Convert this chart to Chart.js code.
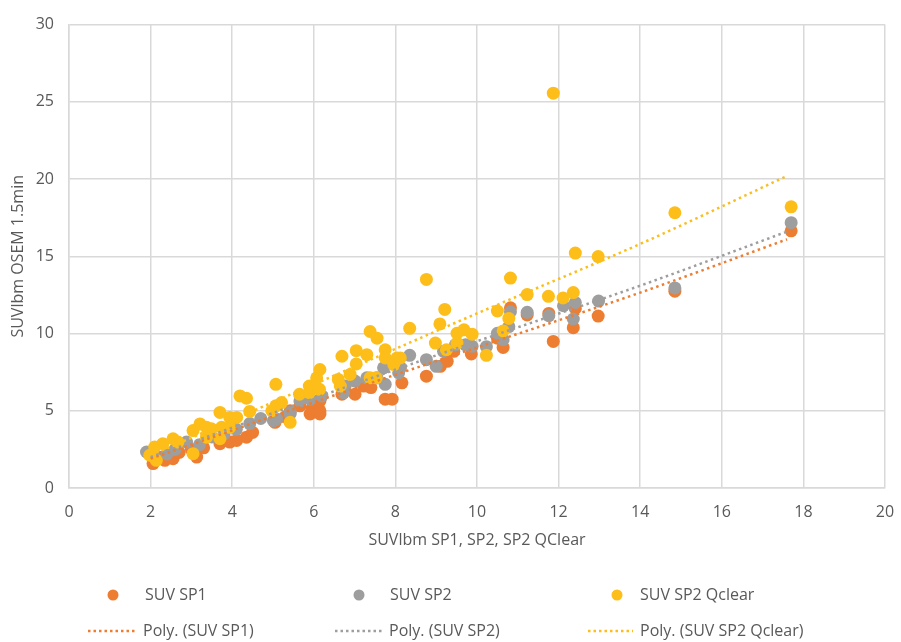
<!DOCTYPE html>
<html>
<head>
<meta charset="utf-8">
<script src="https://cdn.jsdelivr.net/npm/chart.js@4/dist/chart.umd.min.js"></script>
<style>
  html, body { margin: 0; padding: 0; background: #fff; }
  #wrap { width: 901px; height: 642px; }
</style>
</head>
<body>
<div id="wrap"><canvas id="grafico" width="901" height="642"></canvas></div>
<script>
// Valores (SUVlbm)
const sp1X = [2.06, 2.35, 2.55, 2.2, 2.7, 3.13, 3.0, 3.3, 3.7, 3.94, 4.11, 4.35, 4.5, 5.05, 5.3, 5.42, 5.66, 5.91, 6.15, 5.95, 6.15, 5.99, 6.15, 6.69, 7.01, 7.22, 7.4, 7.75, 7.92, 8.16, 8.12, 8.76, 9.1, 9.27, 9.43, 9.86, 10.5, 10.64, 10.82, 11.23, 11.76, 11.87, 12.36, 12.41, 12.97, 14.85, 17.7];
const sp1Y = [1.58, 1.79, 1.9, 2.0, 2.3, 2.0, 2.5, 2.6, 2.87, 2.97, 3.08, 3.29, 3.6, 4.25, 4.6, 5.0, 5.32, 4.79, 4.79, 5.11, 5.0, 5.64, 5.64, 6.07, 6.07, 6.6, 6.5, 5.75, 5.75, 6.81, 7.78, 7.24, 7.88, 8.2, 8.85, 8.68, 9.7, 9.1, 11.67, 11.2, 11.3, 9.49, 10.38, 11.62, 11.13, 12.74, 16.65];

const sp2X = [1.9, 2.1, 2.4, 2.88, 2.6, 3.2, 3.5, 3.8, 4.1, 4.43, 4.7, 5.01, 5.09, 5.42, 5.42, 5.66, 5.91, 6.2, 6.73, 6.77, 7.01, 7.3, 7.55, 7.71, 7.75, 8.04, 8.08, 8.12, 8.35, 8.76, 9.0, 9.18, 9.47, 9.72, 9.88, 10.23, 10.5, 10.64, 10.78, 10.82, 11.23, 11.76, 12.12, 12.36, 12.41, 12.98, 14.85, 17.7];
const sp2Y = [2.33, 2.0, 2.2, 2.97, 2.5, 2.8, 3.3, 3.5, 3.8, 4.17, 4.5, 4.36, 4.47, 4.89, 4.79, 5.64, 5.75, 5.96, 6.17, 6.6, 6.92, 7.13, 7.13, 7.78, 6.71, 7.99, 7.46, 7.78, 8.59, 8.31, 7.88, 8.85, 9.27, 9.27, 9.17, 9.15, 10.02, 9.6, 10.45, 11.41, 11.37, 11.15, 11.8, 10.94, 12.01, 12.1, 12.95, 17.18];

const qclearX = [1.98, 2.14, 2.1, 2.3, 2.55, 2.67, 3.04, 3.04, 3.21, 3.37, 3.37, 3.49, 3.7, 3.7, 3.74, 3.94, 3.94, 4.11, 4.19, 4.35, 4.43, 4.97, 5.07, 5.07, 5.21, 5.42, 5.65, 5.89, 5.89, 6.03, 6.14, 6.07, 6.15, 6.6, 6.65, 6.69, 6.89, 7.04, 7.04, 7.3, 7.38, 7.38, 7.55, 7.53, 7.75, 7.75, 7.96, 8.04, 8.12, 8.35, 8.76, 8.98, 9.09, 9.21, 9.25, 9.51, 9.51, 9.68, 9.88, 10.23, 10.5, 10.64, 10.78, 10.82, 11.23, 11.75, 11.87, 12.11, 12.36, 12.41, 12.97, 14.85, 17.7];
const qclearY = [2.12, 1.79, 2.65, 2.87, 3.19, 2.97, 2.22, 3.72, 4.15, 3.93, 3.29, 3.83, 4.89, 3.19, 3.93, 4.57, 3.93, 4.57, 5.96, 5.81, 4.96, 5.0, 6.71, 5.32, 5.53, 4.25, 6.07, 6.17, 6.6, 6.6, 6.39, 7.13, 7.67, 7.03, 6.6, 8.53, 7.35, 8.89, 8.03, 8.63, 10.13, 7.13, 9.7, 7.13, 8.95, 8.42, 7.99, 8.42, 8.42, 10.34, 13.5, 9.38, 10.62, 11.56, 8.95, 10.02, 9.38, 10.24, 9.96, 8.59, 11.46, 10.17, 10.98, 13.59, 12.52, 12.41, 25.56, 12.3, 12.65, 15.21, 14.98, 17.82, 18.2];

// Linhas de tendência (Poly.)
const trendX = [2, 6, 10, 14, 17.6];
const trendSP1 = [1.9, 5.55, 9.1, 12.65, 16.1];
const trendSP2 = [2.0, 5.8, 9.5, 13.1, 16.6];
const trendQclear = [2.1, 6.7, 11.3, 15.8, 20.2];

const nomes = ['SUV SP1', 'SUV SP2', 'SUV SP2 Qclear'];
const cores = ['#ED7D31', '#9E9E9E', '#FDBE1A'];
const fonte = "'Open Sans', sans-serif";
const cinzaTexto = '#595959';

function pontos(xs, ys) {
    return xs.map((x, i) => ({ x: x, y: ys[i] }));
}

function tendencia(nome, ys, cor) {
    return {
        type: 'line',
        label: 'Poly. (' + nome + ')',
        data: pontos(trendX, ys),
        borderColor: cor,
        borderWidth: 2.5,
        borderDash: [2.5, 3.5],
        pointRadius: 0,
        fill: false,
        cubicInterpolationMode: 'monotone',
        order: 0
    };
}

// Legenda em duas linhas, três colunas
const legendaPlugin = {
    id: 'legenda',
    afterDraw(chart) {
        const c = chart.ctx;
        c.save();
        c.font = '16px ' + fonte;
        c.fillStyle = cinzaTexto;
        c.textBaseline = 'middle';
        const colMarca = [113, 359, 617];
        const colTexto = [145, 390, 640];
        const linha = [[88, 136], [335, 382], [588, 633]];
        for (let i = 0; i < 3; i++) {
            c.beginPath();
            c.arc(colMarca[i], 595, 5.5, 0, Math.PI * 2);
            c.fillStyle = cores[i];
            c.fill();
            c.fillStyle = cinzaTexto;
            c.fillText(nomes[i], colTexto[i], 595);

            c.beginPath();
            c.setLineDash([2.5, 3]);
            c.lineWidth = 2.5;
            c.strokeStyle = cores[i];
            c.moveTo(linha[i][0], 631);
            c.lineTo(linha[i][1], 631);
            c.stroke();
            c.setLineDash([]);
            c.fillText('Poly. (' + nomes[i] + ')', linha[i][1] + 7, 631);
        }
        c.restore();
    }
};

const config = {
    type: 'scatter',
    data: {
        datasets: [
            { label: nomes[0], data: pontos(sp1X, sp1Y), backgroundColor: cores[0], borderWidth: 0, pointRadius: 6.5, order: 3 },
            { label: nomes[1], data: pontos(sp2X, sp2Y), backgroundColor: cores[1], borderWidth: 0, pointRadius: 6.5, order: 2 },
            { label: nomes[2], data: pontos(qclearX, qclearY), backgroundColor: cores[2], borderWidth: 0, pointRadius: 6.5, order: 1 },
            tendencia(nomes[0], trendSP1, cores[0]),
            tendencia(nomes[1], trendSP2, cores[1]),
            tendencia(nomes[2], trendQclear, cores[2])
        ]
    },
    options: {
        responsive: false,
        animation: false,
        layout: {
            padding: { top: 20, right: 16, bottom: 92, left: 0 }
        },
        plugins: {
            legend: { display: false },
            tooltip: { enabled: false }
        },
        scales: {
            x: {
                type: 'linear',
                min: 0,
                max: 20,
                ticks: { stepSize: 2, color: cinzaTexto, font: { family: fonte, size: 16 }, padding: 15 },
                grid: { color: '#D9D9D9', lineWidth: 1.5, drawTicks: false },
                border: { color: '#D9D9D9', width: 1.5 },
                title: {
                    display: true,
                    text: 'SUVlbm SP1, SP2, SP2 QClear',
                    color: cinzaTexto,
                    font: { family: fonte, size: 16 },
                    padding: { top: 6, bottom: 0 }
                },
                afterFit(scale) {
                    scale.height = 62;
                    scale.paddingRight = 0;
                    scale.paddingLeft = 0;
                }
            },
            y: {
                min: 0,
                max: 30,
                ticks: { stepSize: 5, color: cinzaTexto, font: { family: fonte, size: 16 }, padding: 15 },
                grid: { color: '#D9D9D9', lineWidth: 1.5, drawTicks: false },
                border: { color: '#D9D9D9', width: 1.5 },
                title: {
                    display: true,
                    text: 'SUVlbm OSEM 1.5min',
                    color: cinzaTexto,
                    font: { family: fonte, size: 16 },
                    padding: { top: 9, bottom: 0 }
                },
                afterFit(scale) { scale.width = 69; }
            }
        }
    },
    plugins: [legendaPlugin]
};

const ctx = document.getElementById('grafico').getContext('2d');
const grafico = new Chart(ctx, config);
</script>
</body>
</html>
